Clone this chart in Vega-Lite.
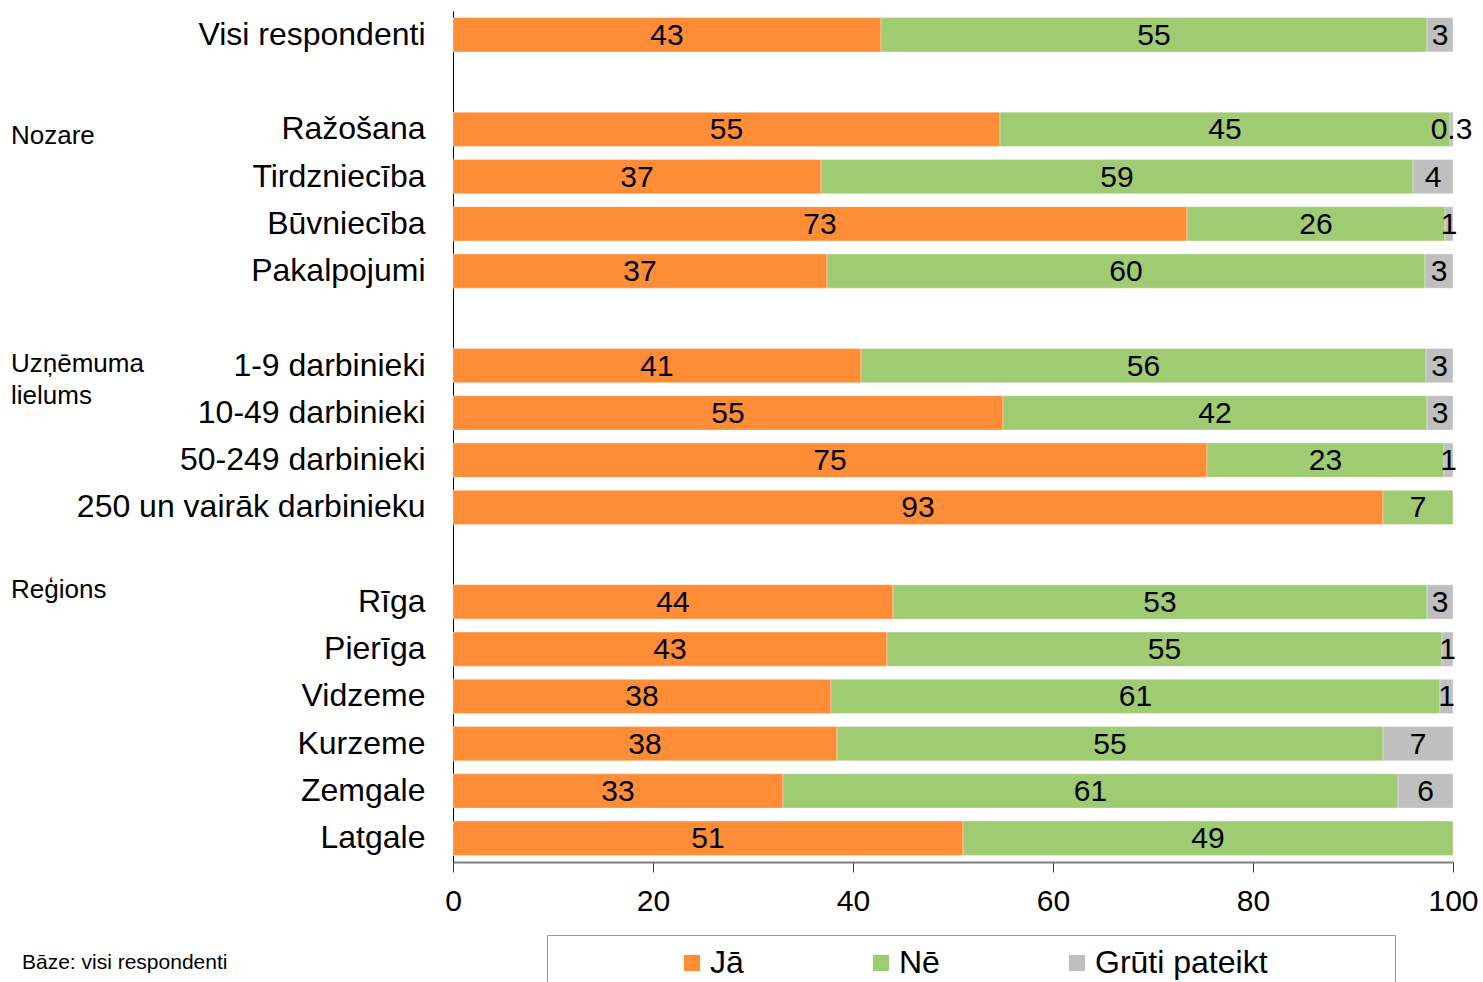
{
  "$schema": "https://vega.github.io/schema/vega-lite/v6.json",
  "width": 1000,
  "height": 851,
  "autosize": {"type": "none"},
  "padding": {"left": 453, "top": 11, "right": 30, "bottom": 120},
  "config": {
    "font": "Liberation Sans",
    "view": {"stroke": null}
  },
  "title": {
    "text": "Bāze: visi respondenti",
    "orient": "bottom",
    "anchor": "start",
    "frame": "group",
    "dx": -431,
    "offset": -40,
    "fontSize": 21,
    "fontWeight": "normal",
    "color": "#000000"
  },
  "datasets": {
    "answers": [
      {"row": "Visi respondenti", "answer": "Jā", "value": 42.8, "label": "43"},
      {"row": "Visi respondenti", "answer": "Nē", "value": 54.6, "label": "55"},
      {"row": "Visi respondenti", "answer": "Grūti pateikt", "value": 2.6, "label": "3"},
      {"row": "Ražošana", "answer": "Jā", "value": 54.7, "label": "55"},
      {"row": "Ražošana", "answer": "Nē", "value": 45.0, "label": "45"},
      {"row": "Ražošana", "answer": "Grūti pateikt", "value": 0.3, "label": "0.3"},
      {"row": "Tirdzniecība", "answer": "Jā", "value": 36.8, "label": "37"},
      {"row": "Tirdzniecība", "answer": "Nē", "value": 59.2, "label": "59"},
      {"row": "Tirdzniecība", "answer": "Grūti pateikt", "value": 4.0, "label": "4"},
      {"row": "Būvniecība", "answer": "Jā", "value": 73.4, "label": "73"},
      {"row": "Būvniecība", "answer": "Nē", "value": 25.8, "label": "26"},
      {"row": "Būvniecība", "answer": "Grūti pateikt", "value": 0.8, "label": "1"},
      {"row": "Pakalpojumi", "answer": "Jā", "value": 37.4, "label": "37"},
      {"row": "Pakalpojumi", "answer": "Nē", "value": 59.8, "label": "60"},
      {"row": "Pakalpojumi", "answer": "Grūti pateikt", "value": 2.8, "label": "3"},
      {"row": "1-9 darbinieki", "answer": "Jā", "value": 40.8, "label": "41"},
      {"row": "1-9 darbinieki", "answer": "Nē", "value": 56.5, "label": "56"},
      {"row": "1-9 darbinieki", "answer": "Grūti pateikt", "value": 2.7, "label": "3"},
      {"row": "10-49 darbinieki", "answer": "Jā", "value": 55.0, "label": "55"},
      {"row": "10-49 darbinieki", "answer": "Nē", "value": 42.4, "label": "42"},
      {"row": "10-49 darbinieki", "answer": "Grūti pateikt", "value": 2.6, "label": "3"},
      {"row": "50-249 darbinieki", "answer": "Jā", "value": 75.4, "label": "75"},
      {"row": "50-249 darbinieki", "answer": "Nē", "value": 23.7, "label": "23"},
      {"row": "50-249 darbinieki", "answer": "Grūti pateikt", "value": 0.9, "label": "1"},
      {"row": "250 un vairāk darbinieku", "answer": "Jā", "value": 93.0, "label": "93"},
      {"row": "250 un vairāk darbinieku", "answer": "Nē", "value": 7.0, "label": "7"},
      {"row": "Rīga", "answer": "Jā", "value": 44.0, "label": "44"},
      {"row": "Rīga", "answer": "Nē", "value": 53.4, "label": "53"},
      {"row": "Rīga", "answer": "Grūti pateikt", "value": 2.6, "label": "3"},
      {"row": "Pierīga", "answer": "Jā", "value": 43.4, "label": "43"},
      {"row": "Pierīga", "answer": "Nē", "value": 55.5, "label": "55"},
      {"row": "Pierīga", "answer": "Grūti pateikt", "value": 1.1, "label": "1"},
      {"row": "Vidzeme", "answer": "Jā", "value": 37.8, "label": "38"},
      {"row": "Vidzeme", "answer": "Nē", "value": 60.9, "label": "61"},
      {"row": "Vidzeme", "answer": "Grūti pateikt", "value": 1.3, "label": "1"},
      {"row": "Kurzeme", "answer": "Jā", "value": 38.4, "label": "38"},
      {"row": "Kurzeme", "answer": "Nē", "value": 54.6, "label": "55"},
      {"row": "Kurzeme", "answer": "Grūti pateikt", "value": 7.0, "label": "7"},
      {"row": "Zemgale", "answer": "Jā", "value": 33.0, "label": "33"},
      {"row": "Zemgale", "answer": "Nē", "value": 61.5, "label": "61"},
      {"row": "Zemgale", "answer": "Grūti pateikt", "value": 5.5, "label": "6"},
      {"row": "Latgale", "answer": "Jā", "value": 51.0, "label": "51"},
      {"row": "Latgale", "answer": "Nē", "value": 49.0, "label": "49"}
    ],
    "groups": [
      {"group": "Nozare", "row": "Ražošana"},
      {"group": "Uzņēmuma\nlielums", "row": "1-9 darbinieki"},
      {"group": "Reģions", "row": "Rīga"}
    ]
  },
  "layer": [
    {
      "data": {"name": "answers"},
      "transform": [
        {"calculate": "indexof(['Jā','Nē','Grūti pateikt'], datum.answer)", "as": "ord"},
        {"stack": "value", "groupby": ["row"], "sort": [{"field": "ord", "order": "ascending"}], "as": ["v0", "v1"]},
        {"calculate": "(datum.v0 + datum.v1) / 2", "as": "mid"}
      ],
      "layer": [
        {
          "mark": {"type": "bar", "stroke": "#ffffff", "strokeWidth": 0.6, "strokeOpacity": 0.6},
          "encoding": {
            "y": {"field": "row", "type": "nominal"},
            "x": {"field": "v0", "type": "quantitative"},
            "x2": {"field": "v1"},
            "color": {
              "field": "answer",
              "type": "nominal",
              "scale": {"domain": ["Jā", "Nē", "Grūti pateikt"], "range": ["#FF8C36", "#9FCB72", "#BFBFBF"]},
              "legend": {
                "title": " ",
                "titleOrient": "right",
                "titlePadding": 115,
                "orient": "none",
                "legendX": 94,
                "legendY": 924,
                "direction": "horizontal",
                "columns": 3,
                "symbolType": "square",
                "symbolSize": 260,
                "symbolStrokeWidth": 0,
                "symbolOffset": 117,
                "labelOffset": 2,
                "labelFontSize": 32,
                "labelLimit": 400,
                "labelColor": "#000000",
                "columnPadding": 4,
                "padding": 12,
                "strokeColor": "#9a9a9a",
                "fillColor": "#ffffff"
              }
            }
          }
        },
        {
          "mark": {"type": "text", "fontSize": 30, "color": "#000000", "baseline": "middle", "dy": 1},
          "encoding": {
            "y": {"field": "row", "type": "nominal"},
            "x": {"field": "mid", "type": "quantitative"},
            "text": {"field": "label"}
          }
        }
      ]
    },
    {
      "data": {"name": "groups"},
      "transform": [{"filter": "datum.group == 'Nozare'"}],
      "mark": {"type": "text", "align": "left", "baseline": "middle", "fontSize": 26, "color": "#000000", "dy": 7},
      "encoding": {
        "y": {"field": "row", "type": "nominal"},
        "x": {"datum": -44.2},
        "text": {"field": "group"}
      }
    },
    {
      "data": {"name": "groups"},
      "transform": [{"filter": "datum.group == 'Reģions'"}],
      "mark": {"type": "text", "align": "left", "baseline": "middle", "fontSize": 26, "color": "#000000", "dy": -12},
      "encoding": {
        "y": {"field": "row", "type": "nominal"},
        "x": {"datum": -44.2},
        "text": {"field": "group"}
      }
    },
    {
      "data": {"name": "groups"},
      "transform": [{"filter": "indexof(datum.group, 'lielums') >= 0"}],
      "mark": {"type": "text", "align": "left", "baseline": "middle", "fontSize": 26, "color": "#000000", "lineBreak": "\n", "lineHeight": 32, "dy": -2},
      "encoding": {
        "y": {"field": "row", "type": "nominal"},
        "x": {"datum": -44.2},
        "text": {"field": "group"}
      }
    }
  ],
  "encoding": {
    "y": {
      "field": "row",
      "type": "nominal",
      "scale": {
        "domain": ["Visi respondenti", " ", "Ražošana", "Tirdzniecība", "Būvniecība", "Pakalpojumi", "  ", "1-9 darbinieki", "10-49 darbinieki", "50-249 darbinieki", "250 un vairāk darbinieku", "   ", "Rīga", "Pierīga", "Vidzeme", "Kurzeme", "Zemgale", "Latgale"],
        "paddingInner": 0.275,
        "paddingOuter": 0.14
      },
      "axis": {
        "title": null,
        "domain": true,
        "domainColor": "#000000",
        "domainWidth": 1,
        "ticks": false,
        "labelFontSize": 32,
        "labelColor": "#000000",
        "labelPadding": 28,
        "labelLimit": 600
      }
    },
    "x": {
      "type": "quantitative",
      "scale": {"domain": [0, 100], "nice": false, "zero": true},
      "axis": {
        "title": null,
        "values": [0, 20, 40, 60, 80, 100],
        "grid": false,
        "domainColor": "#808080",
        "domainWidth": 2,
        "tickColor": "#333333",
        "tickSize": 10,
        "tickWidth": 1,
        "labelFontSize": 30,
        "labelColor": "#000000",
        "labelPadding": 14,
        "labelFlush": false,
        "labelOverlap": false
      }
    }
  }
}
